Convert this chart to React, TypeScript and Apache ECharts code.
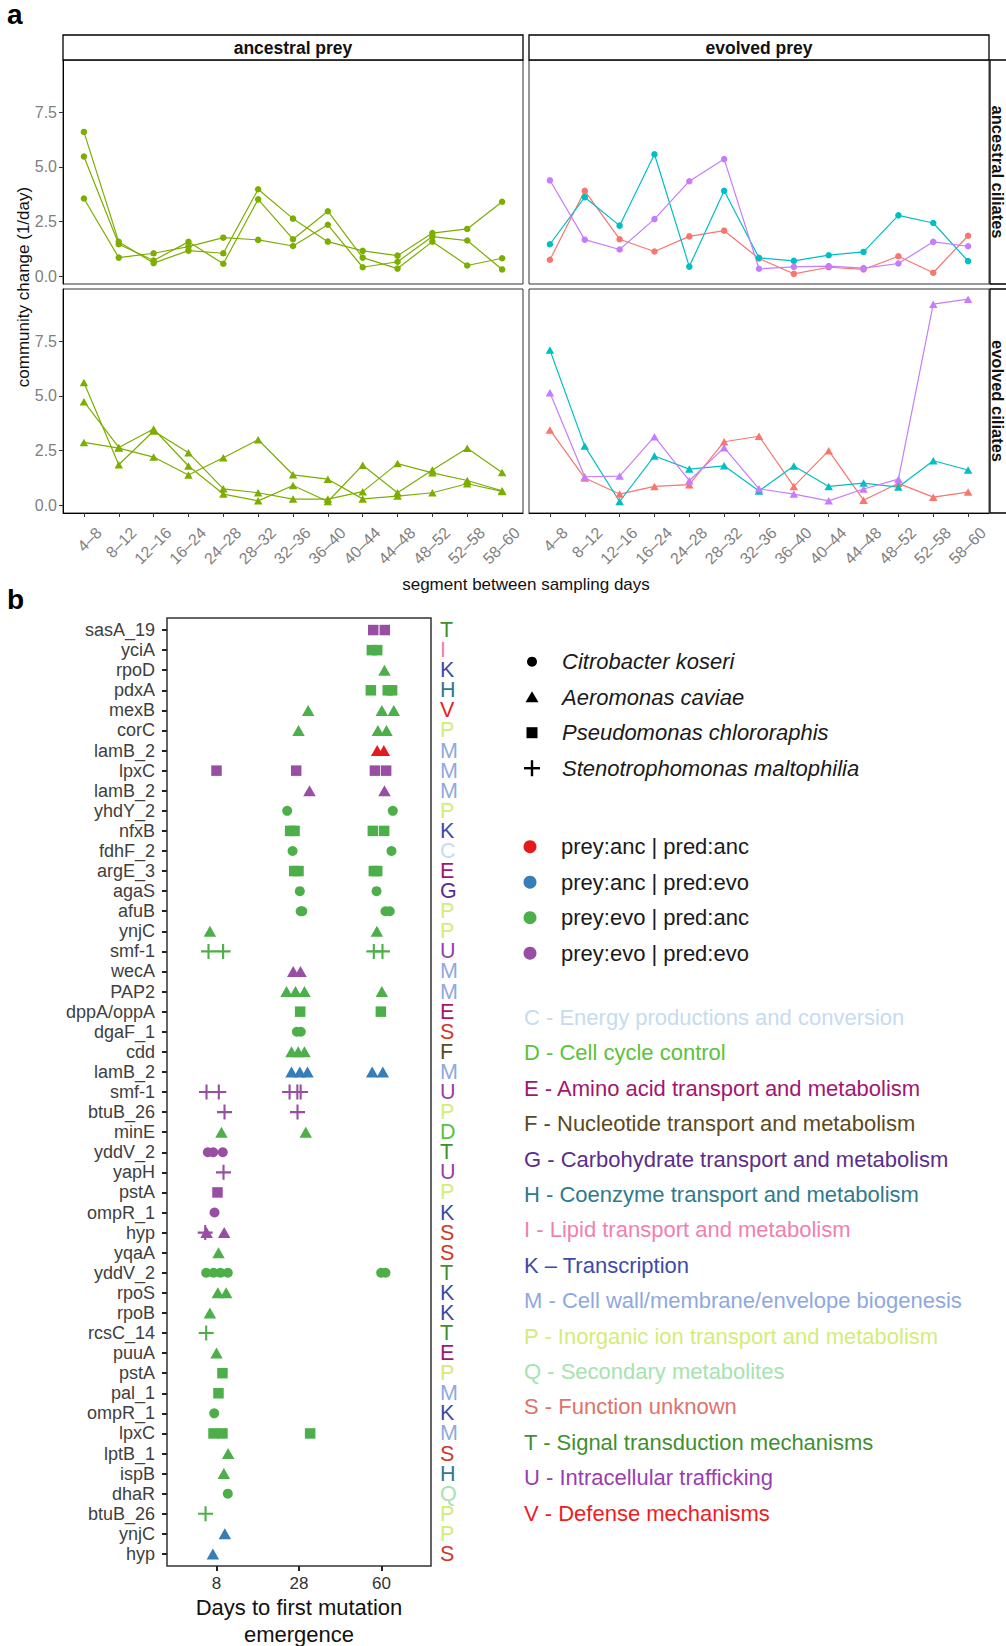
import React, { useEffect, useRef } from "react";
import * as echarts from "echarts";

const FONT = "'Liberation Sans', Arial, Helvetica, sans-serif";

// ---------- panel a data ----------
const segments = ["4–8", "8–12", "12–16", "16–24", "24–28", "28–32", "32–36", "36–40", "40–44", "44–48", "48–52", "52–58", "58–60"];
const yTicksA = [0, 2.5, 5, 7.5];

const ancPreyAncCilA = [6.6, 1.58, 0.61, 1.18, 1.06, 3.98, 2.64, 1.59, 1.17, 0.95, 1.98, 2.17, 3.41];
const ancPreyAncCilB = [5.48, 1.47, 0.73, 1.58, 0.58, 3.52, 1.7, 2.98, 0.86, 0.36, 1.59, 0.5, 0.83];
const ancPreyAncCilC = [3.56, 0.86, 1.06, 1.36, 1.77, 1.67, 1.39, 2.36, 0.42, 0.67, 1.82, 1.64, 0.32];

const ancPreyEvoCilA = [5.61, 1.86, 3.4, 2.41, 0.76, 0.58, 0.29, 0.29, 0.63, 1.91, 1.49, 1.14, 0.67];
const ancPreyEvoCilB = [4.74, 2.65, 3.49, 1.8, 0.52, 0.21, 0.91, 0.18, 1.84, 0.58, 1.62, 2.61, 1.51];
const ancPreyEvoCilC = [2.88, 2.62, 2.21, 1.39, 2.18, 3.0, 1.4, 1.2, 0.3, 0.43, 0.58, 0.99, 0.64];

const evoPreyAncCilRed = [0.76, 3.91, 1.7, 1.14, 1.83, 2.09, 0.82, 0.12, 0.42, 0.32, 0.92, 0.17, 1.86];
const evoPreyAncCilTeal = [1.47, 3.62, 2.32, 5.58, 0.45, 3.91, 0.85, 0.71, 0.97, 1.12, 2.79, 2.44, 0.7];
const evoPreyAncCilPurple = [4.39, 1.68, 1.23, 2.62, 4.35, 5.36, 0.35, 0.44, 0.47, 0.38, 0.59, 1.58, 1.38];

const evoPreyEvoCilRed = [3.45, 1.25, 0.52, 0.87, 0.95, 2.91, 3.16, 0.87, 2.5, 0.24, 1.01, 0.38, 0.61];
const evoPreyEvoCilTeal = [7.1, 2.71, 0.18, 2.26, 1.66, 1.81, 0.66, 1.8, 0.87, 1.02, 0.84, 2.04, 1.62];
const evoPreyEvoCilPurple = [5.15, 1.31, 1.34, 3.14, 1.13, 2.64, 0.76, 0.52, 0.21, 0.75, 1.2, 9.19, 9.42];

// ---------- panel b data ----------
const genes = ["sasA_19", "yciA", "rpoD", "pdxA", "mexB", "corC", "lamB_2", "lpxC", "lamB_2", "yhdY_2", "nfxB", "fdhF_2", "argE_3", "agaS", "afuB", "ynjC", "smf-1", "wecA", "PAP2", "dppA/oppA", "dgaF_1", "cdd", "lamB_2", "smf-1", "btuB_26", "minE", "yddV_2", "yapH", "pstA", "ompR_1", "hyp", "yqaA", "yddV_2", "rpoS", "rpoB", "rcsC_14", "puuA", "pstA", "pal_1", "ompR_1", "lpxC", "lptB_1", "ispB", "dhaR", "btuB_26", "ynjC", "hyp"];
const cogLetters = ["T", "I", "K", "H", "V", "P", "M", "M", "M", "P", "K", "C", "E", "G", "P", "P", "U", "M", "M", "E", "S", "F", "M", "U", "P", "D", "T", "U", "P", "K", "S", "S", "T", "K", "K", "T", "E", "P", "M", "K", "M", "S", "H", "Q", "P", "P", "S"];
const dayLabels = ["8", "28", "60"];
const daysTitle = ["Days to first mutation", "emergence"];

// [position on day axis (1 = 8, 2 = 28, 3 = 60, jittered), gene row]
const citroEvoAnc = [[1.857, 9], [3.137, 9], [1.922, 11], [3.121, 11], [2.01, 13], [2.94, 13], [2.02, 14], [2.04, 14], [3.048, 14], [3.1, 14], [1.974, 20], [2.022, 20], [0.875, 32], [0.964, 32], [1.048, 32], [1.137, 32], [2.996, 32], [3.048, 32], [0.972, 39], [1.137, 43]];
const citroEvoEvo = [[0.895, 26], [0.96, 26], [1.076, 26], [0.976, 29]];
const aeroEvoAnc = [[3.036, 2], [2.111, 4], [3.004, 4], [3.149, 4], [1.994, 5], [2.956, 5], [3.06, 5], [0.92, 15], [2.944, 15], [1.849, 18], [1.958, 18], [2.066, 18], [3.004, 18], [1.909, 21], [1.99, 21], [2.066, 21], [1.06, 25], [2.082, 25], [1.024, 31], [1.016, 33], [1.117, 33], [0.92, 34], [1.0, 36], [1.141, 41], [1.089, 42]];
const aeroEvoEvo = [[2.127, 8], [3.036, 8], [1.93, 17], [2.018, 17], [0.88, 30], [1.093, 30]];
const aeroAncAnc = [[2.948, 6], [3.028, 6]];
const aeroAncEvo = [[1.909, 22], [2.01, 22], [2.103, 22], [2.887, 22], [3.016, 22], [1.101, 45], [0.956, 46]];
const pseudEvoAnc = [[2.883, 1], [2.948, 1], [2.871, 3], [3.076, 3], [3.129, 3], [1.893, 10], [1.946, 10], [2.895, 10], [3.032, 10], [1.942, 12], [1.994, 12], [2.907, 12], [2.948, 12], [2.014, 19], [2.992, 19], [1.072, 37], [1.024, 38], [0.964, 40], [1.072, 40], [2.135, 40]];
const pseudEvoEvo = [[2.9, 0], [3.04, 0], [1.0, 7], [1.966, 7], [2.92, 7], [3.056, 7], [1.012, 28]];
const stenoEvoAnc = [[0.903, 16], [1.08, 16], [2.907, 16], [3.012, 16], [0.875, 35], [0.867, 44]];
const stenoEvoEvo = [[0.879, 23], [1.028, 23], [1.886, 23], [1.98, 23], [2.02, 23], [1.097, 24], [1.982, 24], [1.085, 27], [0.863, 30]];

const speciesNames = ["Citrobacter koseri", "Aeromonas caviae", "Pseudomonas chlororaphis", "Stenotrophomonas maltophilia"];
const treatmentNames = ["prey:anc | pred:anc", "prey:anc | pred:evo", "prey:evo | pred:anc", "prey:evo | pred:evo"];
const cogLegend = ["C - Energy productions and conversion", "D - Cell cycle control", "E - Amino acid transport and metabolism", "F - Nucleotide transport and metabolism", "G - Carbohydrate transport and metabolism", "H - Coenzyme transport and metabolism", "I - Lipid transport and metabolism", "K – Transcription", "M - Cell wall/membrane/envelope biogenesis", "P - Inorganic ion transport and metabolism", "Q - Secondary metabolites", "S - Function unknown", "T - Signal transduction mechanisms", "U - Intracellular trafficking", "V - Defense mechanisms"];

// ---------- styles ----------
const GREEN_A = "#7CAE00";
const RED_A = "#F8766D";
const TEAL_A = "#00BFC4";
const PURPLE_A = "#C77CFF";
const T_RED = "#E41A1C";
const T_BLUE = "#377EB8";
const T_GREEN = "#4DAF4A";
const T_PURPLE = "#984EA3";
const treatmentColors = [T_RED, T_BLUE, T_GREEN, T_PURPLE];
const cogColors: Record<string, string> = {
  C: "#C6DBF0", D: "#5CC23A", E: "#A3166F", F: "#5A4A1E", G: "#5B2D8C", H: "#2F7A8C", I: "#F27FAE",
  K: "#3D4AA8", M: "#8EA8E0", P: "#D4EC78", Q: "#A6E3AE", S: "#E0726C", T: "#3F8F2F", U: "#9A3DB0", V: "#EE1C24",
};
const colColors: Record<string, string> = { ...cogColors, S: "#D0392B" };
const PLUS = "path://M4.3,0H5.7V4.3H10V5.7H5.7V10H4.3V5.7H0V4.3H4.3Z";

function buildOption() {
  const PW = 460, PH = 224;
  const panels = [
    { left: 63, top: 60 }, { left: 529, top: 60 },
    { left: 63, top: 289 }, { left: 529, top: 289 },
  ];
  const grid: any[] = panels.map((p) => ({
    left: p.left, top: p.top, width: PW, height: PH, show: true,
    borderColor: "#333", borderWidth: 1, containLabel: false, outerBoundsMode: "none",
  }));
  grid.push({ left: 167, top: 618, width: 264, height: 948, show: true, borderColor: "#333", borderWidth: 1.5, containLabel: false, outerBoundsMode: "none" });

  const segIdx = segments.map((_, i) => i);
  const SHIFT = 15 / (PW / 13.2);
  const xBase = (gi: number, bottom: boolean) => ({
    type: "value", gridIndex: gi, min: -0.6, max: 12.6, position: "bottom",
    axisLine: { show: bottom, onZero: false, lineStyle: { color: "#000", width: 1 } },
    axisTick: { show: bottom, customValues: segIdx, length: 4, lineStyle: { color: "#333" } },
    axisLabel: { show: false },
    splitLine: { show: false },
  });
  const xLab = (gi: number) => ({
    type: "value", gridIndex: gi, min: -0.6 - SHIFT, max: 12.6 - SHIFT, position: "bottom",
    axisLine: { show: false, onZero: false }, axisTick: { show: false }, splitLine: { show: false },
    axisLabel: {
      show: true, customValues: segIdx, formatter: (v: number) => segments[Math.round(v)],
      rotate: 45, margin: 17, color: "#808080", fontSize: 16, fontFamily: FONT,
      showMinLabel: true, showMaxLabel: true,
    },
  });
  const yA = (gi: number, labels: boolean) => ({
    type: "value", gridIndex: gi, min: -0.345, max: 9.885,
    axisLine: { show: labels, onZero: false, lineStyle: { color: "#000" } },
    axisTick: { show: labels, customValues: yTicksA, length: 4, lineStyle: { color: "#333" } },
    axisLabel: {
      show: labels, customValues: yTicksA, formatter: (v: number) => v.toFixed(1),
      color: "#808080", fontSize: 16, margin: 6, fontFamily: FONT,
      showMinLabel: true, showMaxLabel: true,
    },
    splitLine: { show: false },
  });

  const geneIdx = genes.map((_, i) => i);
  // COG letters split over two label-only axes (even / odd rows) so that neighbours never collide
  const letterAxis = (rows: number[]) => ({
    type: "value", gridIndex: 4, inverse: true, min: -0.6, max: 46.6, position: "right", offset: 0,
    axisLine: { show: false, onZero: false }, axisTick: { show: false }, splitLine: { show: false },
    axisLabel: {
      customValues: rows,
      formatter: (v: number) => cogLetters[Math.round(v)],
      color: (v: any) => colColors[cogLetters[Math.round(Number(v))]] || "#333",
      fontSize: 21.5, lineHeight: 18, margin: 9, fontFamily: FONT,
      showMinLabel: true, showMaxLabel: true,
    },
  });

  const xAxis: any[] = [
    xBase(0, false), xBase(1, false), xBase(2, true), xBase(3, true), xLab(2), xLab(3),
    {
      type: "value", gridIndex: 4, min: 0.4, max: 3.6, position: "bottom",
      axisLine: { show: false, onZero: false },
      axisTick: { show: true, customValues: [1, 2, 3], length: 5, lineStyle: { color: "#222", width: 2 } },
      axisLabel: {
        customValues: [1, 2, 3], formatter: (v: number) => dayLabels[Math.round(v) - 1],
        fontSize: 17, color: "#333", margin: 9, fontFamily: FONT,
        showMinLabel: true, showMaxLabel: true,
      },
      splitLine: { show: false },
    },
  ];
  const yAxis: any[] = [
    yA(0, true), yA(1, false), yA(2, true), yA(3, false),
    {
      type: "value", gridIndex: 4, inverse: true, min: -0.6, max: 46.6, position: "left",
      axisLine: { show: false, onZero: false },
      axisTick: { show: true, customValues: geneIdx, length: 5, lineStyle: { color: "#222", width: 2 } },
      axisLabel: {
        customValues: geneIdx, formatter: (v: number) => genes[Math.round(v)],
        fontSize: 18, lineHeight: 18, color: "#404040", margin: 12, fontFamily: FONT,
        showMinLabel: true, showMaxLabel: true,
      },
      splitLine: { show: false },
    },
    letterAxis(geneIdx.filter((i) => i % 2 === 0)),
    letterAxis(geneIdx.filter((i) => i % 2 === 1)),
  ];

  const line = (vals: number[], color: string, panel: number, tri: boolean) => ({
    type: "line", xAxisIndex: panel, yAxisIndex: panel,
    data: vals.map((v, i) => [i, v]),
    symbol: tri ? "triangle" : "circle", symbolSize: tri ? [8.5, 7.5] : 6.5,
    showSymbol: true,
    lineStyle: { color, width: 1.2 }, itemStyle: { color },
    emphasis: { disabled: true },
  });

  const shapeSym: Record<string, any> = { circle: "circle", triangle: "triangle", square: "rect", plus: PLUS };
  const shapeSize: Record<string, any> = { circle: 10, triangle: [12.5, 11], square: 10.5, plus: 15 };
  const scatter = (data: number[][], shape: string, color: string) => ({
    type: "scatter", xAxisIndex: 6, yAxisIndex: 4, data,
    symbol: shapeSym[shape], symbolSize: shapeSize[shape],
    itemStyle: { color, opacity: 1 },
    emphasis: { disabled: true },
  });

  const series: any[] = [
    line(ancPreyAncCilA, GREEN_A, 0, false), line(ancPreyAncCilB, GREEN_A, 0, false), line(ancPreyAncCilC, GREEN_A, 0, false),
    line(evoPreyAncCilRed, RED_A, 1, false), line(evoPreyAncCilTeal, TEAL_A, 1, false), line(evoPreyAncCilPurple, PURPLE_A, 1, false),
    line(ancPreyEvoCilA, GREEN_A, 2, true), line(ancPreyEvoCilB, GREEN_A, 2, true), line(ancPreyEvoCilC, GREEN_A, 2, true),
    line(evoPreyEvoCilRed, RED_A, 3, true), line(evoPreyEvoCilTeal, TEAL_A, 3, true), line(evoPreyEvoCilPurple, PURPLE_A, 3, true),
    scatter(citroEvoAnc, "circle", T_GREEN), scatter(citroEvoEvo, "circle", T_PURPLE),
    scatter(aeroEvoAnc, "triangle", T_GREEN), scatter(aeroEvoEvo, "triangle", T_PURPLE),
    scatter(aeroAncAnc, "triangle", T_RED), scatter(aeroAncEvo, "triangle", T_BLUE),
    scatter(pseudEvoAnc, "square", T_GREEN), scatter(pseudEvoEvo, "square", T_PURPLE),
    scatter(stenoEvoAnc, "plus", T_GREEN), scatter(stenoEvoEvo, "plus", T_PURPLE),
  ];

  const txt = (x: number, y: number, text: string, opts: any = {}) => ({
    type: "text", x, y, rotation: opts.rotation || 0, silent: true,
    style: {
      text, fill: opts.fill || "#111",
      fontSize: opts.fontSize || 17, fontWeight: opts.fontWeight || "normal",
      fontStyle: opts.fontStyle || "normal", fontFamily: FONT,
      align: opts.align || "left", textAlign: opts.align || "left",
      verticalAlign: "middle", textVerticalAlign: "middle",
    },
  });

  const graphic: any[] = [];
  // panel letters
  graphic.push(txt(7, 14, "a", { fontSize: 28, fontWeight: "bold", fill: "#000" }));
  graphic.push(txt(7, 599, "b", { fontSize: 28, fontWeight: "bold", fill: "#000" }));
  // strips
  const stripTop = [{ x: 63, label: "ancestral prey" }, { x: 529, label: "evolved prey" }];
  stripTop.forEach((s) => {
    graphic.push({ type: "rect", silent: true, shape: { x: s.x, y: 35, width: PW, height: 25 }, style: { fill: "#fff", stroke: "#000", lineWidth: 1.3 } });
    graphic.push(txt(s.x + PW / 2, 47.5, s.label, { fontWeight: "bold", fontSize: 17.5, align: "center" }));
  });
  const stripRight = [{ y: 60, label: "ancestral ciliates" }, { y: 289, label: "evolved ciliates" }];
  stripRight.forEach((s) => {
    graphic.push({ type: "rect", silent: true, shape: { x: 990, y: s.y, width: 30, height: PH }, style: { fill: "#fff", stroke: "#000", lineWidth: 1.3 } });
    graphic.push(txt(998, s.y + PH / 2, s.label, { fontWeight: "bold", fontSize: 16.5, align: "center", rotation: -Math.PI / 2 }));
  });
  // axis titles
  graphic.push(txt(23, 287, "community change (1/day)", { align: "center", rotation: Math.PI / 2 }));
  graphic.push(txt(526, 584, "segment between sampling days", { align: "center" }));
  daysTitle.forEach((t, i) => graphic.push(txt(299, 1607 + i * 27, t, { fontSize: 22, align: "center" })));

  // species (shape) legend
  const SX = 532, TX = 562;
  const sy = (i: number) => 661.7 + i * 35.5;
  graphic.push({ type: "circle", silent: true, shape: { cx: SX, cy: sy(0), r: 5 }, style: { fill: "#000" } });
  graphic.push({ type: "polygon", silent: true, shape: { points: [[SX, sy(1) - 6], [SX + 6.5, sy(1) + 5], [SX - 6.5, sy(1) + 5]] }, style: { fill: "#000" } });
  graphic.push({ type: "rect", silent: true, shape: { x: SX - 5.5, y: sy(2) - 5.5, width: 11, height: 11 }, style: { fill: "#000" } });
  graphic.push({ type: "rect", silent: true, shape: { x: SX - 8, y: sy(3) - 1.2, width: 16, height: 2.4 }, style: { fill: "#000" } });
  graphic.push({ type: "rect", silent: true, shape: { x: SX - 1.2, y: sy(3) - 8, width: 2.4, height: 16 }, style: { fill: "#000" } });
  speciesNames.forEach((n, i) => graphic.push(txt(TX, sy(i), n, { fontSize: 22, fontStyle: "italic", fill: "#1a1a1a" })));

  // treatment (colour) legend
  const cy = (i: number) => 846.7 + i * 35.5;
  treatmentNames.forEach((n, i) => {
    graphic.push({ type: "circle", silent: true, shape: { cx: 530, cy: cy(i), r: 6.5 }, style: { fill: treatmentColors[i] } });
    graphic.push(txt(TX - 1, cy(i), n, { fontSize: 22, fill: "#1a1a1a" }));
  });

  // COG legend
  cogLegend.forEach((n, i) => {
    graphic.push(txt(524, 1017.5 + i * 35.4, n, { fontSize: 22, fill: cogColors[n[0]] }));
  });

  return {
    animation: false,
    backgroundColor: "#fff",
    textStyle: { fontFamily: FONT },
    grid, xAxis, yAxis, series, graphic,
    tooltip: { show: false },
  };
}

export default function App() {
  const ref = useRef<HTMLDivElement>(null);
  useEffect(() => {
    document.body.style.margin = "0";
    const chart = echarts.init(ref.current as HTMLDivElement, null, { renderer: "svg" });
    chart.setOption(buildOption() as any);
    return () => chart.dispose();
  }, []);
  return (
    <div
      ref={ref}
      style={{ position: "absolute", left: 0, top: 0, width: 1006, height: 1646, background: "#fff" }}
    />
  );
}
